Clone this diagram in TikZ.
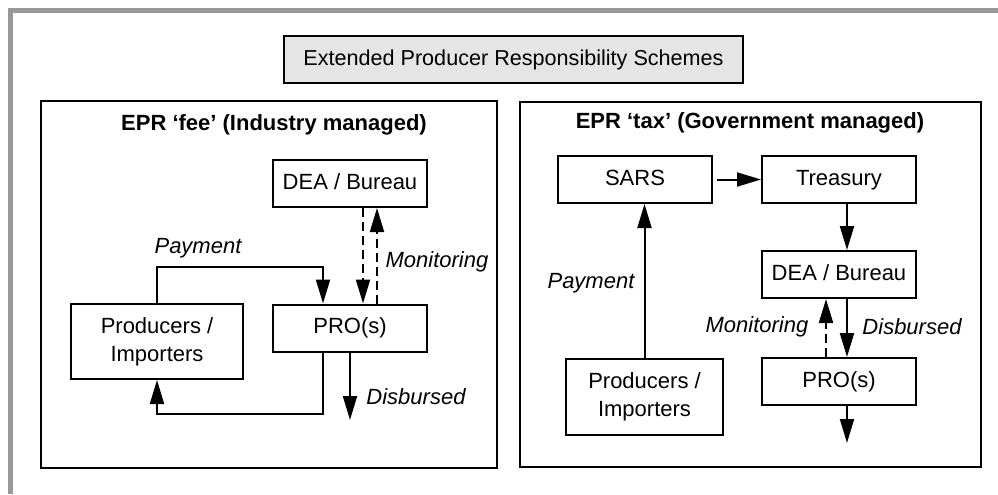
\documentclass[tikz,border=0pt]{standalone}
\usepackage{fontspec}
\setmainfont{Liberation Sans}
\usepackage{tikz}
\usetikzlibrary{arrows.meta, positioning, calc}
\tikzstyle{arrow} = [line width=1pt,-{Triangle[length=12pt,width=7pt]}]

\begin{document}
\begin{tikzpicture}[
      x=0.5pt, y=-0.5pt,
      every node/.style={font=\fontsize{11}{14}\selectfont, inner sep=0pt, text centered},
        box/.style={draw, rectangle, line width=1pt, minimum width=77pt, minimum height=23.5pt, text height=8pt, text depth=2.3pt},
        prodbox/.style={draw, rectangle, line width=1pt, align=center},
        panel/.style={draw, rectangle, line width=1pt},
        lbl/.style={font=\fontsize{11}{14}\selectfont\itshape},
        monitor/.style={arrow, dash pattern=on 4.5pt off 2.5pt}
          ]
        \useasboundingbox (0,0) rectangle (998,494);

        % Outer frame
        \draw [line width=2.5pt, gray!80] (10,494) -- (10,10) -- (998,10);

        % Heading
        \node (heading) [box, fill=black!10, minimum width=229.5pt, font=\fontsize{10.8}{13}\selectfont] at (513.5,59.5) {Extended Producer Responsibility Schemes};

        % Panels
        \node (feepanel) [panel, minimum width=228pt, minimum height=183.5pt] at (269,284.5) {};
        \node (taxpanel) [panel, minimum width=230.5pt, minimum height=182.5pt] at (750.5,284.5) {};
        \node (feetitle) [font=\fontsize{11}{14}\selectfont\bfseries] at (274,125) {EPR ‘fee’ (Industry managed)};
        \node (taxtitle) [font=\fontsize{11}{14}\selectfont\bfseries] at (750,123) {EPR ‘tax’ (Government managed)};

        % EPR fee boxes
        \node (ldea) [box] at (350,183.5) {DEA / Bureau};
        \node (lpro) [box] at (350,328) {PRO(s)};
        \node (lprod) [prodbox, minimum width=86pt, minimum height=37.5pt] at (157,341.5) {Producers /\\Importers};
        \coordinate (lout) at (350,420);

        % EPR tax boxes
        \node (sars) [box] at (635,179.5) {SARS};
        \node (treas) [box] at (839,179.5) {Treasury};
        \node (rdea) [box] at (839,274.5) {DEA / Bureau};
        \node (rpro) [box] at (839,381.5) {PRO(s)};
        \node (rprod) [prodbox, minimum width=78.5pt, minimum height=38pt] at (644.5,397) {Producers /\\Importers};
        \coordinate (rout) at (847,443);

        % EPR fee flows
        \draw [arrow] (lprod.north) -- ++(0,-36) -| ([xshift=-13.5pt]lpro.north);
        \draw [monitor] ([xshift=6.5pt]ldea.south) -- ([xshift=6.5pt]lpro.north);
        \draw [monitor] ([xshift=13.5pt]lpro.north) -- ([xshift=13.5pt]ldea.south);
        \draw [arrow] ([xshift=-13.5pt]lpro.south) -- ++(0,61) -| (lprod.south);
        \draw [arrow] (lpro.south) -- (lout);
        \node (lpay) [lbl] at (198,248) {Payment};
        \node (lmon) [lbl] at (437,262) {Monitoring};
        \node (ldis) [lbl] at (416,397) {Disbursed};

        % EPR tax flows
        \draw [arrow] (rprod.north) -- (rprod.north |- sars.south);
        \draw [arrow] ([xshift=2pt]sars.east) -- (treas.west);
        \draw [arrow] ([xshift=4pt]treas.south) -- ([xshift=4pt]rdea.north);
        \draw [arrow] ([xshift=4pt]rdea.south) -- ([xshift=4pt]rpro.north);
        \draw [monitor] ([xshift=-6.5pt]rpro.north) -- ([xshift=-6.5pt]rdea.south);
        \draw [arrow] ([xshift=4pt]rpro.south) -- (rout);
        \node (rpay) [lbl] at (591,283) {Payment};
        \node (rmon) [lbl] at (757,327) {Monitoring};
        \node (rdis) [lbl] at (912,327) {Disbursed};

          \end{tikzpicture}
\end{document}
